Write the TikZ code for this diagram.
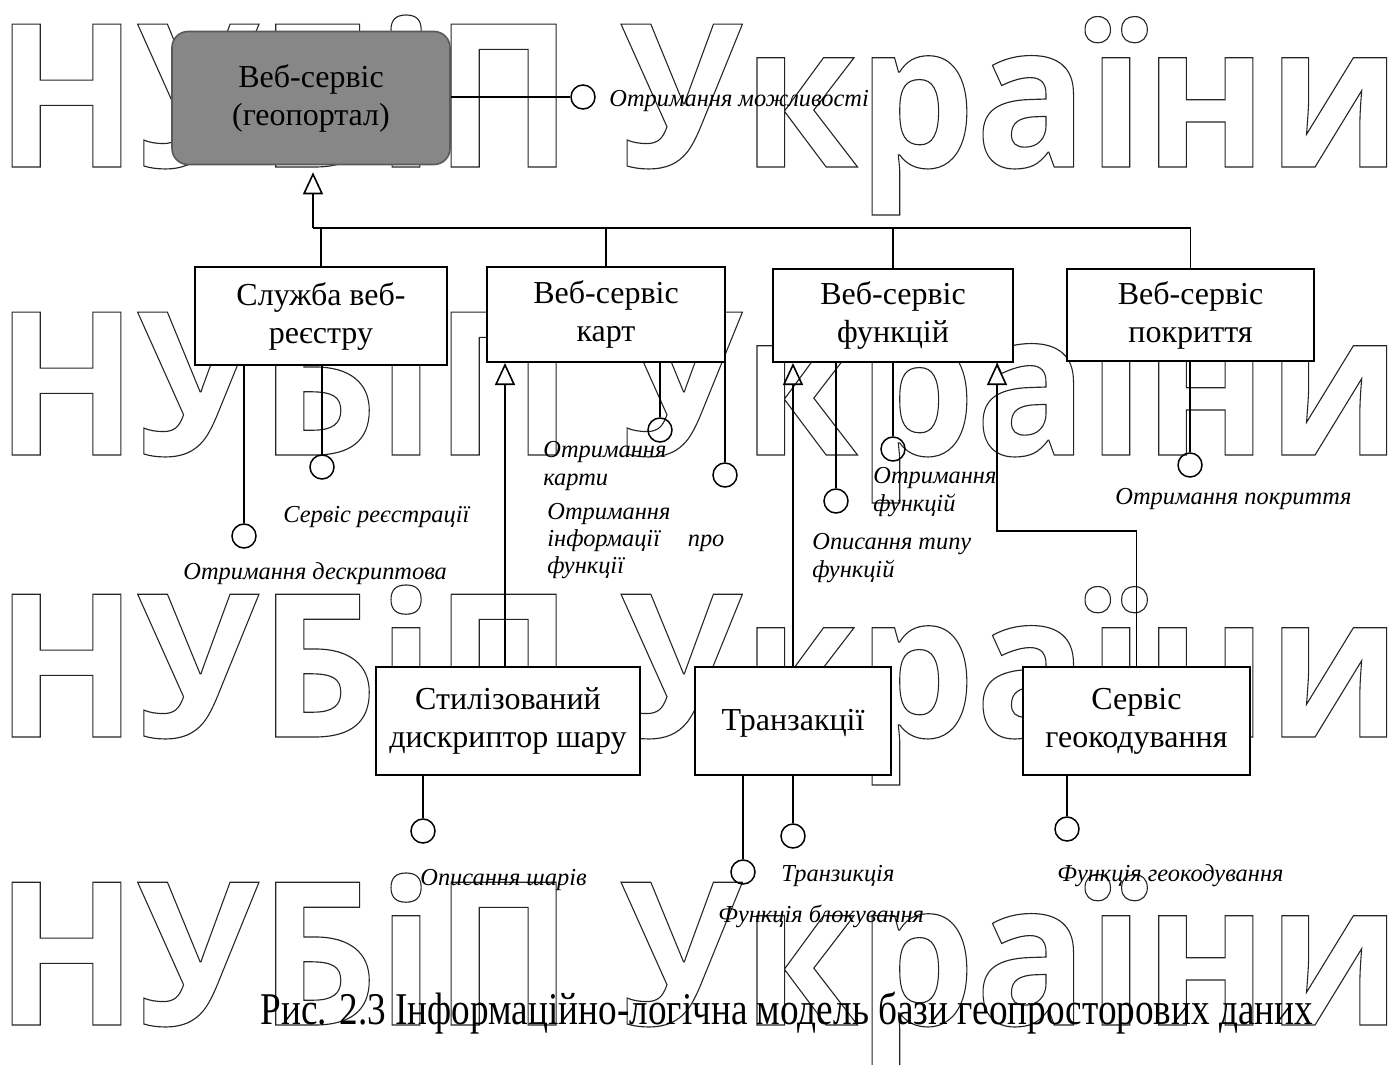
\documentclass[tikz,border=0pt]{standalone}
\usepackage{fontspec}
\setmainfont{Liberation Serif}
\newfontfamily\wmfont{Open Sans}
\usetikzlibrary{arrows.meta}
\newcommand\boxfont{\fontsize{16pt}{19pt}\selectfont}
\newcommand\lblfont{\itshape\fontsize{12.2pt}{13.6pt}\selectfont}
\newcommand\outlinetext[1]{\special{pdf:literal direct 1 Tr 0.6 w}#1\special{pdf:literal direct 0 Tr}}
\newcommand\wmtext{\resizebox{703pt}{76pt}{\outlinetext{НУБіП України}}}
\begin{document}
\begin{tikzpicture}[x=0.5pt,y=-0.5pt,
  box/.style={draw, line width=1pt, fill=white, align=center, font=\boxfont, inner sep=0pt},
  lolly/.style={draw, circle, line width=0.75pt, minimum size=12pt, inner sep=0pt},
  lbl/.style={font=\lblfont, align=left, inner sep=0pt, anchor=west},
  conn/.style={line width=0.6pt},
  inh/.style={line width=0.6pt, -{Triangle[open, length=11pt, width=10pt, line width=0.8pt]}},
  wm/.style={font=\wmfont\bfseries\fontsize{104.5pt}{104.5pt}\selectfont, inner sep=0pt, anchor=base west, text=black!85}
]
\useasboundingbox (0,0) rectangle (1397,1065);
\fill[white] (0,0) rectangle (1397,1065);

% watermark
\node[wm] (w1) at (-5,167) {\wmtext};
\node[wm] (w2) at (-5,455) {\wmtext};
\node[wm] (w3) at (-5,737) {\wmtext};
\node[wm] (w4) at (-5,1025) {\wmtext};

% boxes
\node[box, rounded corners=8pt, fill=black!47, draw=black!65, line width=0.8pt,
      minimum width=139pt, minimum height=66.5pt] (gp) at (311,98) {Веб-сервіс\\(геопортал)};
\node[box, minimum width=126pt, minimum height=49pt] (b1) at (321,316) {Служба веб-\\реєстру};
\node[box, minimum width=119pt, minimum height=47.5pt] (b2) at (606,314.5) {Веб-сервіс\\карт};
\node[box, minimum width=120pt, minimum height=46.5pt] (b3) at (893,315.5) {Веб-сервіс\\функцій};
\node[box, minimum width=123.5pt, minimum height=46pt] (b4) at (1190.5,315) {Веб-сервіс\\покриття};
\node[box, minimum width=132pt, minimum height=54pt] (s1) at (508,721) {Стилізований\\дискриптор шару};
\node[box, minimum width=98pt, minimum height=54pt, text depth=1pt] (tr) at (793,721) {Транзакції};
\node[box, minimum width=113.5pt, minimum height=54pt] (gc) at (1136.5,721) {Сервіс\\геокодування};

% inheritance
\coordinate (busL) at (313,228);
\coordinate (busR) at (1190.5,228);
\draw[line width=0.9pt] (busL) -- (busR);
\draw[inh] (busL) -- ([yshift=-3.5pt]gp.south -| busL);
\draw[conn] (b1.north |- busL) -- (b1.north);
\draw[conn] (b2.north |- busL) -- (b2.north);
\draw[conn] (b3.north |- busL) -- (b3.north);
\draw[conn] (b4.north |- busL) -- (b4.north);
\draw[inh] ([xshift=-1.5pt]s1.north) -- ([xshift=-1.5pt]s1.north |- b2.south);
\draw[inh] (tr.north) -- (tr.north |- b3.south);
\draw[inh] (gc.north) -- (gc.north |- 0,531) -- ([xshift=52pt]b3.south |- 0,531) -- ([xshift=52pt]b3.south);

% lollipops
\node[lolly] (c0) at (583,97) {};
\draw[conn] (gp.east |- c0) -- (c0);
\node[lolly] (ca) at (244,536) {};
\draw[conn] (b1.south -| ca) -- (ca);
\node[lolly] (cb) at (322,467) {};
\draw[conn] (b1.south -| cb) -- (cb);
\node[lolly] (cc) at (660,430) {};
\draw[conn] (b2.south -| cc) -- (cc);
\node[lolly] (cd) at (725,475) {};
\draw[conn] (b2.south -| cd) -- (cd);
\node[lolly] (ce) at (836,501) {};
\draw[conn] (b3.south -| ce) -- (ce);
\node[lolly] (cf) at (893,449) {};
\draw[conn] (b3.south -| cf) -- (cf);
\node[lolly] (cg) at (1190,465) {};
\draw[conn] (b4.south -| cg) -- (cg);
\node[lolly] (ch) at (423,831) {};
\draw[conn] (s1.south -| ch) -- (ch);
\node[lolly] (ci) at (743,872) {};
\draw[conn] (tr.south -| ci) -- (ci);
\node[lolly] (cj) at (793,836) {};
\draw[conn] (tr.south -| cj) -- (cj);
\node[lolly] (ck) at (1067,829) {};
\draw[conn] (gc.south -| ck) -- (ck);

% labels
\node[lbl] (l0) at (609,101) {Отримання можливості};
\node[lbl] (la) at (183,574) {Отримання дескриптова};
\node[lbl] (lb) at (283,517) {Сервіс реєстрації};
\node[lbl] (lc) at (543,466) {Отримання\\карти};
\node[lbl] (ld) at (547,541) {Отримання\\\hbox to 88.5pt{інформації\hfill про}\\функції};
\node[lbl] (le) at (812,558) {Описання типу\\функцій};
\node[lbl] (lf) at (873,492) {Отримання\\функцій};
\node[lbl] (lg) at (1115,499) {Отримання покриття};
\node[lbl] (lh) at (420,880) {Описання шарів};
\node[lbl] (li) at (781,876) {Транзикція};
\node[lbl] (lj) at (718,916) {Функція блокування};
\node[lbl] (lk) at (1057,876) {Функція геокодування};

% caption
\node[inner sep=0pt] (cap) at (787,1013) {\fontsize{22.7pt}{24pt}\selectfont\scalebox{0.82}[1]{Рис. 2.3 Інформаційно-логічна модель бази геопросторових даних}};
\end{tikzpicture}
\end{document}
